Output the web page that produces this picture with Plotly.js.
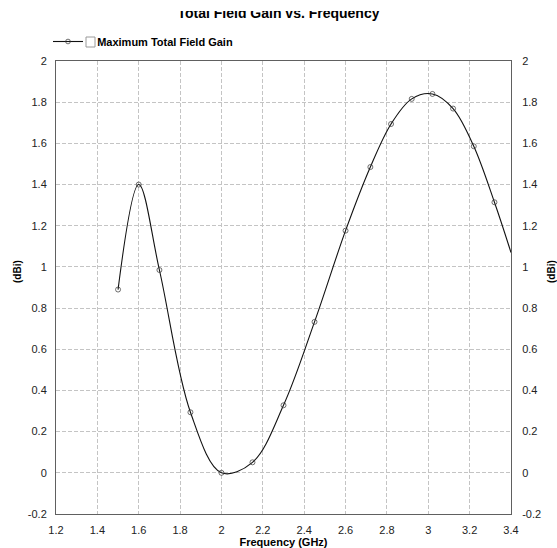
<!DOCTYPE html>
<html>
<head>
<meta charset="utf-8">
<script src="https://cdn.plot.ly/plotly-3.0.1.min.js"></script>
<style>
  html, body { margin: 0; padding: 0; background: #fff; overflow: hidden; }
  #chart { position: absolute; left: 0; top: -12px; width: 557px; height: 560px; }
  #topcover { position: absolute; left: 0; top: 0; width: 557px; height: 11px; background: #fff; z-index: 10; }
</style>
</head>
<body>
<div id="chart"></div>
<div id="topcover"></div>
<script>
// ---- data ----
const chartTitle = "Total Field Gain vs. Frequency";
const seriesName = "Maximum Total Field Gain";
const xTitle = "Frequency (GHz)";
const yTitle = "(dBi)";

const frequencyGHz = [1.5, 1.6, 1.7, 1.85, 2.0, 2.15, 2.3, 2.45, 2.6, 2.72, 2.82, 2.92, 3.02, 3.12, 3.22, 3.32, 3.4];
const gainDBi      = [0.89, 1.40, 0.985, 0.294, 0.0, 0.051, 0.328, 0.733, 1.176, 1.485, 1.694, 1.816, 1.84, 1.769, 1.586, 1.314, 1.07];

const xTickValues = [1.2, 1.4, 1.6, 1.8, 2, 2.2, 2.4, 2.6, 2.8, 3, 3.2, 3.4];
const xTickLabels = ["1.2", "1.4", "1.6", "1.8", "2", "2.2", "2.4", "2.6", "2.8", "3", "3.2", "3.4"];
const yTickValues = [-0.2, 0, 0.2, 0.4, 0.6, 0.8, 1, 1.2, 1.4, 1.6, 1.8, 2];
const yTickLabels = ["-0.2", "0", "0.2", "0.4", "0.6", "0.8", "1", "1.2", "1.4", "1.6", "1.8", "2"];
const xRange = [1.2, 3.4];
const yRange = [-0.2, 2];

// ---- styling ----
const FONT = "Liberation Sans, Arial, sans-serif";
const gridColor = "#c4c4c4";
const axisColor = "#606060";
const markerSizes = frequencyGHz.map(f => (f >= xRange[1] ? 0 : 5));

const trace = {
  x: frequencyGHz,
  y: gainDBi,
  type: "scatter",
  mode: "lines+markers",
  name: "\u00a0\u00a0\u00a0" + seriesName,
  line: { color: "#111111", width: 1.1, shape: "spline", smoothing: 1 },
  marker: { symbol: "circle-open", size: markerSizes, color: "#333333", line: { width: 1, color: "#333333" } },
  cliponaxis: true,
  hoverinfo: "x+y"
};

const axisCommon = {
  showgrid: true,
  gridcolor: gridColor,
  griddash: "4px,2px",
  gridwidth: 1,
  zeroline: false,
  showline: true,
  linecolor: axisColor,
  linewidth: 1,
  ticks: "",
  tickfont: { family: FONT, size: 11, color: "#222" },
  tickmode: "array"
};

const yTitleFont = { family: FONT, size: 10, color: "#000" };

const layout = {
  width: 557,
  height: 560,
  paper_bgcolor: "#ffffff",
  plot_bgcolor: "#ffffff",
  margin: { l: 56, r: 46, t: 73, b: 34, autoexpand: false },
  showlegend: true,
  title: {
    text: "<b>" + chartTitle + "</b>",
    font: { family: FONT, size: 14, color: "#000" },
    x: 0.5, xanchor: "center",
    xref: "container", yref: "container",
    y: 1 - 25 / 560, yanchor: "middle"
  },
  legend: {
    xref: "paper", yref: "paper",
    x: (48 - 56) / 455, y: (526 - 39) / 453,
    xanchor: "left", yanchor: "top",
    bgcolor: "rgba(0,0,0,0)",
    borderwidth: 0,
    font: { family: FONT, size: 11, color: "#000", weight: "bold" },
    itemwidth: 30
  },
  xaxis: Object.assign({}, axisCommon, {
    range: xRange,
    tickvals: xTickValues,
    ticktext: xTickLabels,
    mirror: true,
    ticklabelstandoff: 6,
    title: { text: "<b>" + xTitle + "</b>", font: { family: FONT, size: 11, color: "#000" }, standoff: 4 }
  }),
  yaxis: Object.assign({}, axisCommon, {
    range: yRange,
    tickvals: yTickValues,
    ticktext: yTickLabels,
    mirror: true,
    ticklabelstandoff: 6
  }),
  yaxis2: Object.assign({}, axisCommon, {
    range: yRange,
    tickvals: yTickValues,
    ticktext: yTickLabels,
    overlaying: "y",
    side: "right",
    showgrid: false,
    ticklabelstandoff: 8
  }),
  annotations: [
    {
      text: "<b>" + yTitle + "</b>", textangle: -90, showarrow: false,
      xref: "paper", yref: "paper", x: (17 - 56) / 455, y: (526 - 284) / 453,
      xanchor: "center", yanchor: "middle", font: yTitleFont
    },
    {
      text: "<b>" + yTitle + "</b>", textangle: -90, showarrow: false,
      xref: "paper", yref: "paper", x: (551 - 56) / 455, y: (526 - 284) / 453,
      xanchor: "center", yanchor: "middle", font: yTitleFont
    }
  ],
  shapes: [
    {
      type: "rect", xref: "paper", yref: "paper",
      x0: (86 - 56) / 455, x1: (95 - 56) / 455,
      y0: (526 - 59) / 453, y1: (526 - 49) / 453,
      line: { color: "#9a9a9a", width: 1 },
      fillcolor: "#ffffff",
      layer: "above"
    }
  ]
};

// invisible helper trace so the right-hand axis is drawn
const rightAxisTrace = {
  x: [xRange[0]], y: [yRange[0]], yaxis: "y2", type: "scatter", mode: "markers",
  marker: { size: 0, opacity: 0 }, showlegend: false, hoverinfo: "skip"
};

Plotly.newPlot("chart", [trace, rightAxisTrace], layout, { displayModeBar: false, staticPlot: true });
</script>
</body>
</html>
